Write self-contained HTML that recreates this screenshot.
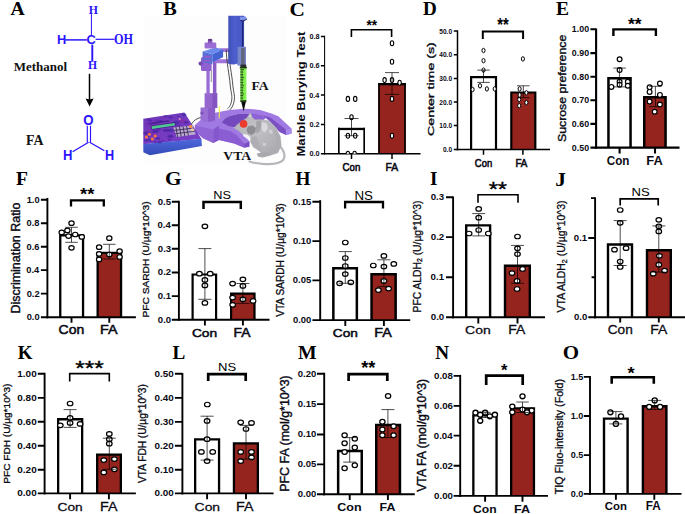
<!DOCTYPE html>
<html lang="en"><head><meta charset="utf-8"><title>Figure</title>
<style>html,body{margin:0;padding:0;background:#fff}body{width:685px;height:514px;overflow:hidden}svg text{white-space:pre}</style></head>
<body>
<svg width="685" height="514" viewBox="0 0 685 514" style="display:block">
<rect width="685" height="514" fill="#fff"/>
<g id="panelB">
<defs>
<linearGradient id="colg" x1="0" x2="1" y1="0" y2="0"><stop offset="0" stop-color="#3f4fb8"/><stop offset="0.35" stop-color="#4d5ecd"/><stop offset="0.7" stop-color="#4858c8"/><stop offset="0.86" stop-color="#3b49b0"/><stop offset="1" stop-color="#4a5ac4"/></linearGradient>
<linearGradient id="boxf" x1="0" x2="0" y1="0" y2="1"><stop offset="0" stop-color="#4f68dc"/><stop offset="1" stop-color="#334bb8"/></linearGradient>
<linearGradient id="boxt" x1="0" x2="1" y1="0" y2="1"><stop offset="0" stop-color="#6d35b8"/><stop offset="1" stop-color="#7c3fc8"/></linearGradient>
<radialGradient id="mouseg" cx="0.45" cy="0.35" r="0.7"><stop offset="0" stop-color="#c3c3c8"/><stop offset="1" stop-color="#aaaaaf"/></radialGradient>
</defs>
<rect x="143.5" y="15.8" width="143" height="149" fill="#fdfdfe"/>
<path d="M194.9 124.9L203.1 117.8L216.1 112.6Q229 109.4 243.5 108.7Q254 108.8 260.2 110.1L271.5 113.4L278.3 116.2L291.5 128.4L291.5 133.4L286.2 135.1L279.7 132L270.2 121.5L266 118L262.6 115.4Q252 113.4 243.5 113.4Q231 114.2 224.9 118.4L221.4 122.5L234.2 127.8L240 131.3L249.4 141.2L249.4 147L244.1 147.6L234.2 143.5L219 140L213.4 143L203 138.3L194.9 131Z" fill="#a079e3"/>
<path d="M221.4 122.5L224.9 118.4Q231 114.2 243.5 113.4Q252 113.2 262.6 115.4L262 121L240 126.4L234.2 127.4L228.4 126Z" fill="#7449bd"/>
<path d="M251 113.5Q257 114 262.6 115.4L266 118L262 121L251 121Z" fill="#8d63d5"/>
<path d="M262.6 115.4L270 117.2L285.8 129.6L286.2 135.1L279.7 132L270.2 121.5L266 118Z" fill="#7c51c4"/>
<path d="M285.8 129.6L291.5 128.4L291.5 133.4L286.2 135.1Z" fill="#a888ea"/>
<path d="M194.9 125.4L213.4 129.5L213.4 143L203 138.3L194.9 131Z" fill="#9265d6"/>
<path d="M213.4 129.5L219 125.6L219 140L213.4 143Z" fill="#8557cc"/>
<path d="M219 128.4L230 131L236 134.5L244.3 143.8L244.2 147.8L234.2 143.5L219 140Z" fill="#8a5dd3"/>
<path d="M244.3 143.8L249.4 141.4L249.4 146.4L244.2 147.8Z" fill="#7a4dc2"/>
<path d="M143.3 118.8L184.4 112.6L201.4 138.9L143.3 144.2Z" fill="url(#boxt)"/>
<path d="M143.3 144.1L201.4 138.8L201.9 145.9L149.9 155.2L143.3 152.3Z" fill="url(#boxf)"/>
<g opacity="0.55">
<ellipse cx="157.4" cy="120.7" rx="1.4" ry="0.7" fill="#5520a0"/>
<ellipse cx="178.4" cy="116.2" rx="1.4" ry="0.7" fill="#2a2a9a"/>
<ellipse cx="164.5" cy="116.6" rx="2.2" ry="1.1" fill="#8a2aa0"/>
<ellipse cx="155.4" cy="131.4" rx="3.1" ry="1.6" fill="#3a1796"/>
<ellipse cx="148.9" cy="123.7" rx="2.6" ry="1.3" fill="#5520a0"/>
<ellipse cx="146.5" cy="133.3" rx="3.4" ry="1.7" fill="#3a1796"/>
<ellipse cx="145.9" cy="140.4" rx="2.2" ry="1.1" fill="#4a1aa8"/>
<ellipse cx="170.8" cy="130.2" rx="3.1" ry="1.5" fill="#2a2a9a"/>
<ellipse cx="152.5" cy="132.5" rx="1.7" ry="0.8" fill="#5520a0"/>
<ellipse cx="148.5" cy="136.3" rx="1.4" ry="0.7" fill="#2a2a9a"/>
<ellipse cx="154.1" cy="134.9" rx="3.0" ry="1.5" fill="#8a2aa0"/>
<ellipse cx="169.7" cy="139.8" rx="1.9" ry="1.0" fill="#4a1aa8"/>
<ellipse cx="185.4" cy="132.1" rx="1.4" ry="0.7" fill="#3a1796"/>
<ellipse cx="158.2" cy="129.6" rx="2.9" ry="1.4" fill="#4a1aa8"/>
<ellipse cx="159.9" cy="142.2" rx="2.4" ry="1.2" fill="#3a1796"/>
<ellipse cx="151.0" cy="126.5" rx="2.2" ry="1.1" fill="#8a2aa0"/>
<ellipse cx="184.1" cy="114.9" rx="2.5" ry="1.3" fill="#2a2a9a"/>
<ellipse cx="184.0" cy="121.6" rx="2.0" ry="1.0" fill="#5520a0"/>
<ellipse cx="170.4" cy="136.3" rx="3.1" ry="1.6" fill="#3a1796"/>
<ellipse cx="189.7" cy="125.4" rx="1.4" ry="0.7" fill="#5520a0"/>
<ellipse cx="177.2" cy="122.3" rx="3.5" ry="1.7" fill="#2a2a9a"/>
<ellipse cx="181.1" cy="121.1" rx="3.2" ry="1.6" fill="#8a2aa0"/>
<ellipse cx="163.1" cy="140.8" rx="1.6" ry="0.8" fill="#4a1aa8"/>
<ellipse cx="148.2" cy="119.6" rx="1.5" ry="0.8" fill="#4a1aa8"/>
<ellipse cx="155.1" cy="127.3" rx="1.4" ry="0.7" fill="#8a2aa0"/>
<ellipse cx="166.0" cy="130.2" rx="3.1" ry="1.5" fill="#3a1796"/>
<ellipse cx="182.9" cy="120.7" rx="3.5" ry="1.7" fill="#8a2aa0"/>
<ellipse cx="175.8" cy="124.5" rx="1.6" ry="0.8" fill="#3a1796"/>
<ellipse cx="151.2" cy="123.6" rx="1.3" ry="0.6" fill="#3a1796"/>
<ellipse cx="180.0" cy="118.4" rx="1.3" ry="0.6" fill="#4a1aa8"/>
<ellipse cx="163.1" cy="125.7" rx="2.0" ry="1.0" fill="#2a2a9a"/>
<ellipse cx="150.3" cy="139.9" rx="2.7" ry="1.4" fill="#2a2a9a"/>
<ellipse cx="179.4" cy="126.1" rx="3.0" ry="1.5" fill="#5520a0"/>
<ellipse cx="162.1" cy="126.6" rx="2.3" ry="1.2" fill="#3a1796"/>
<ellipse cx="161.1" cy="121.2" rx="2.2" ry="1.1" fill="#3a1796"/>
<ellipse cx="148.9" cy="133.4" rx="1.3" ry="0.6" fill="#3a1796"/>
<ellipse cx="149.8" cy="120.5" rx="2.6" ry="1.3" fill="#4a1aa8"/>
<ellipse cx="146.4" cy="123.7" rx="1.6" ry="0.8" fill="#8a2aa0"/>
<ellipse cx="155.2" cy="126.1" rx="2.3" ry="1.2" fill="#4a1aa8"/>
<ellipse cx="149.0" cy="130.5" rx="2.3" ry="1.2" fill="#8a2aa0"/>
<ellipse cx="156.9" cy="120.6" rx="2.0" ry="1.0" fill="#5520a0"/>
<ellipse cx="157.9" cy="138.4" rx="2.4" ry="1.2" fill="#3a1796"/>
<ellipse cx="155.1" cy="141.9" rx="1.6" ry="0.8" fill="#4a1aa8"/>
<ellipse cx="165.9" cy="116.1" rx="1.9" ry="1.0" fill="#2a2a9a"/>
<ellipse cx="170.7" cy="117.2" rx="2.4" ry="1.2" fill="#4a1aa8"/>
<ellipse cx="186.1" cy="122.5" rx="2.5" ry="1.2" fill="#3a1796"/>
</g>
<path d="M150.6 125.6L175.2 122.1L175.8 126.2L151.3 129.8Z" fill="#4a2090"/>
<path d="M151.6 126.2L174.6 122.9L175 125.6L152 128.9Z" fill="#50c690"/>
<path d="M151 122.8L169 120.3L169.3 121.6L151.3 124.2Z" fill="#4b1c8c"/>
<path d="M173.3 127.4L193.5 125.2L195.6 134.4L176.6 137.1Z" fill="#b9a9cf"/>
<path d="M176 127.2L177.6 137M179.5 126.8L181.2 136.5M183 126.4L184.8 136M186.5 126L188.4 135.5M174.2 130.4L194.2 128M175.2 133.7L195 131.2" stroke="#3b2a5a" stroke-width="0.9" fill="none"/>
<circle cx="149.3" cy="134.2" r="1.5" fill="#ff7a3a"/>
<circle cx="146.4" cy="137.1" r="1.5" fill="#ff7a3a"/>
<circle cx="155.2" cy="135.9" r="1.5" fill="#ff7a3a"/>
<circle cx="152.3" cy="138.9" r="1.5" fill="#ff7a3a"/>
<circle cx="190.6" cy="126.6" r="1.6" fill="#ff8a3a"/><circle cx="192.3" cy="129.8" r="1.5" fill="#f3c9a8"/>
<circle cx="179.7" cy="119" r="1.1" fill="#e08fc0"/>
<path d="M191.5 124Q195 118.5 201 117.5" stroke="#222" stroke-width="0.8" fill="none"/>
<path d="M200.5 107.5H215.1V120Q207.8 124 200.5 120Z" fill="#9a6fd3"/>
<path d="M208 107.5H215.1V120.5L208 122Z" fill="#8a5cc8"/>
<circle cx="202" cy="113" r="1.6" fill="#7d50b8"/>
<rect x="204.6" y="93.2" width="12.6" height="14.8" fill="#9466ce"/>
<rect x="212.4" y="93.2" width="4.8" height="14.8" fill="#8255c0"/>
<rect x="206.4" y="68" width="3.3" height="26.5" fill="#9a6cd5"/>
<rect x="212.9" y="60" width="3.5" height="34.5" fill="#8a5cc8"/>
<path d="M211.3 70V82" stroke="#444" stroke-width="0.6"/>
<rect x="201" y="57" width="10.6" height="14" rx="1.5" fill="#9060cf"/>
<circle cx="200.6" cy="63.6" r="2.1" fill="#7546ae"/>
<rect x="218.5" y="48.3" width="12.6" height="3.7" rx="1.8" fill="#a173da"/>
<rect x="214.5" y="59.2" width="16.6" height="4" rx="2" fill="#a173da"/>
<path d="M202.6 51.4L212.4 54.3L212.4 64.2L202.6 62Z" fill="#5470d6"/>
<path d="M202.6 51.4L215.3 47.5L223.1 49.5L212.4 54.3Z" fill="#6a8aec"/>
<path d="M212.4 54.3L223.1 49.5L223.1 57.2L212.4 62.1Z" fill="#4363d3"/>
<rect x="203.4" y="55.6" width="7.4" height="2.4" rx="1.2" fill="#8a5ccc"/>
<rect x="203.4" y="59.4" width="7.4" height="2.4" rx="1.2" fill="#8a5ccc"/>
<rect x="204.6" y="42.6" width="11.7" height="5.8" rx="1.2" fill="#9a6dd3"/>
<rect x="207.9" y="39.6" width="4.5" height="3.8" rx="1" fill="#8558c2"/>
<ellipse cx="210.1" cy="39.8" rx="2.2" ry="1.1" fill="#5c3b80"/>
<path d="M226.2 49.5C226.5 62 229.5 76 230.1 84S232.5 95 231.7 100S229.6 107 227.4 108.9M228.7 49.5C229 62 232.1 76 232.7 84S235.1 95 234.3 100S232.2 107.6 229.8 109.9" stroke="#262626" stroke-width="0.8" fill="none"/>
<path d="M219.3 106.1V118.4" stroke="#f2f03a" stroke-width="1"/>
<path d="M228.3 15.8H244.1V47H245.8V65.3H237.6V63.6Q233 65.4 228.3 63.8Z" fill="url(#colg)"/>
<path d="M239.6 17.2L245.4 16.7L247.3 19.3L243.6 21.6L240.4 20.9Z" fill="#1f2868"/>
<path d="M239.6 16.9L245.4 16.4L247.1 18.7L243.4 20.2L240.2 19.9Z" fill="#8192ec"/>
<path d="M242.6 21V47" stroke="#1c2570" stroke-width="1.1"/>
<rect x="237.6" y="46.8" width="8.2" height="18.6" fill="#7785cb"/>
<rect x="241.2" y="48" width="3.4" height="17.4" fill="#62667a"/>
<rect x="240.4" y="64.6" width="5.8" height="2.6" fill="#2a2a30"/>
<rect x="240.3" y="67" width="6.1" height="34.5" fill="#82f250"/>
<rect x="239.8" y="66.8" width="7.1" height="1.6" fill="#1d3b12"/>
<path d="M240.4 69.6h3.6M240.4 71.2h2.8M240.4 72.8h2.8M240.4 74.5h2.8M240.4 76.1h2.8M240.4 77.7h3.6M240.4 79.3h2.8M240.4 80.9h2.8M240.4 82.6h2.8M240.4 84.2h2.8M240.4 85.8h3.6M240.4 87.4h2.8M240.4 89.0h2.8M240.4 90.7h2.8M240.4 92.3h2.8M240.4 93.9h3.6M240.4 95.5h2.8M240.4 97.1h2.8M240.4 98.8h2.8" stroke="#0c1c08" stroke-width="0.75" fill="none"/>
<rect x="240.3" y="100.3" width="6.1" height="1.5" fill="#1c2a16"/>
<path d="M241.1 101.6H245.9L243.6 111.6Z" fill="#0c0c0c"/>
<path d="M280.2 146.5C283.6 150.5 286 155.5 283.2 160C279.5 164.2 270 164.4 262 163.8C256.5 163.4 252.5 162.6 249.6 161.4" stroke="#b7b7bc" stroke-width="2.2" fill="none" stroke-linecap="round"/>
<path d="M250.4 112.6 L252.2 117.2 L254.7 119.7 L260.2 119.4 L268.7 120.7 L276.1 127.7 L280.4 136.8 L281.2 145.4 L277.9 152.8 L270.0 155.4 L262.6 157.2 L258.3 156.4 L257.1 153.7 L261.4 153.0 L258.3 150.3 L253.4 147.2 L250.4 141.7 L250.6 137.1 L246.7 137.1 L242.4 134.1 L237.5 130.1 L234.4 128.5 L235.7 125.8 L240.6 122.1 L246.7 117.9 L248.2 115.8Z" fill="url(#mouseg)" stroke="#a9a9ae" stroke-width="0.4" stroke-linejoin="round"/>
<path d="M247.9 126.4 L252.2 125.2 L255.9 127.7 L255.3 132.5 L251.6 135.0 L247.9 133.4 L246.4 130.1Z" fill="#8d8d92"/>
<path d="M256.5 120.9 L260.8 120.3 L261.4 125.8 L259.5 131.3 L256.5 133.8 L255.9 128.3Z" fill="#a3a3a8"/>
<path d="M262.0 122.1 L266.9 123.4 L267.8 128.3 L265.1 132.5 L262.4 130.7 L261.4 126.4Z" fill="#dadade"/>
<path d="M268.7 129.5 L272.2 130.1 L272.7 133.4 L269.7 133.8Z" fill="#d2d2d6"/>
<path d="M262.6 142.7 L266.3 143.2 L265.7 146.0 L262.9 145.7Z" fill="#cfcfd3"/>
<path d="M273.6 129.5 L279.1 135.6 L280.7 144.2 L277.9 152.1 L273.6 153.4 L276.7 145.4 L276.3 137.4Z" fill="#acacb1"/>
<path d="M251.6 137.1 L256.5 136.2 L258.3 141.7 L260.8 147.9 L262.6 152.5 L258.3 150.1 L253.8 147.0 L250.7 141.7Z" fill="#aeaeb3"/>
<path d="M242.8 133.9 L246.7 134.4 L250.4 137.1 L250.1 139.5 L246.4 138.3 L243.6 136.3Z" fill="#f4f4f6"/>
<path d="M257.1 153.7 L261.4 152.8 L268.7 152.3 L270.2 155.0 L262.9 157.2 L258.3 156.4Z" fill="#a8a8ad"/>
<path d="M248.9 117.0 L250.4 113.8 L251.6 117.2Z" fill="#d6d6da"/>
<circle cx="243.6" cy="123.9" r="3.8" fill="#ec3a2c"/>
<text transform="translate(163.20 15.20) scale(1.0644 1)" font-family='"Liberation Serif", serif' font-weight="bold" font-size="19.09" fill="#000" >B</text>
<text transform="translate(251.40 89.90) scale(1.0563 1)" font-family='"Liberation Serif", serif' font-weight="bold" font-size="12.88" fill="#111" >FA</text>
<text transform="translate(223.36 159.81) scale(1.0601 1)" font-family='"Liberation Serif", serif' font-weight="bold" font-size="12.89" fill="#111" >VTA</text>
</g>
<g id="panelA">
<text transform="translate(10.40 15.30) scale(1.0328 1)" font-family='"Liberation Serif", serif' font-weight="bold" font-size="19.09" fill="#000" >A</text>
<path d="M91.4 13.9V35.2" stroke="#2b14fb" stroke-width="1" fill="none"/>
<path d="M92.3 44.6V61.6" stroke="#2b14fb" stroke-width="1.9" fill="none"/>
<path d="M65.4 39.9H86.9" stroke="#2b14fb" stroke-width="1.5" fill="none"/>
<path d="M95.6 39.3H114.5" stroke="#2b14fb" stroke-width="1.2" fill="none"/>
<text transform="translate(88.72 13.90) scale(0.8792 1)" font-family='"Liberation Serif", serif' font-weight="bold" font-size="13.44" fill="#2b14fb" >H</text>
<text transform="translate(86.49 44.46) scale(0.9485 1)" font-family='"Liberation Sans", sans-serif' font-weight="bold" font-size="13.52" fill="#2b14fb" >C</text>
<text transform="translate(56.96 43.90) scale(1.0216 1)" font-family='"Liberation Sans", sans-serif' font-weight="bold" font-size="12.61" fill="#2b14fb" >H</text>
<text transform="translate(113.89 43.96) scale(0.9043 1)" font-family='"Liberation Serif", serif' font-weight="bold" font-size="13.58" fill="#2b14fb" >OH</text>
<text transform="translate(88.12 68.50) scale(0.9328 1)" font-family='"Liberation Serif", serif' font-weight="bold" font-size="12.52" fill="#2b14fb" >H</text>
<text transform="translate(13.70 70.58) scale(1.0427 1)" font-family='"Liberation Serif", serif' font-weight="bold" font-size="12.48" fill="#111" >Methanol</text>
<path d="M89.5 73.8V100" stroke="#000" stroke-width="1.5" fill="none"/>
<path d="M85.6 98.6Q89.5 100.2 93.6 98.6L89.6 106.4Z" fill="#000"/>
<text transform="translate(83.27 125.06) scale(0.9590 1)" font-family='"Liberation Sans", sans-serif' font-weight="bold" font-size="13.80" fill="#2b14fb" >O</text>
<path d="M87.3 125.8V142.5M90.5 125.8V142.5" stroke="#2b14fb" stroke-width="1.15" fill="none"/>
<path d="M88.6 142.3L72.6 151.7M89.6 142.3L104.4 150.8" stroke="#2b14fb" stroke-width="1.3" fill="none"/>
<text transform="translate(62.95 159.90) scale(0.9380 1)" font-family='"Liberation Sans", sans-serif' font-weight="bold" font-size="13.91" fill="#2b14fb" >H</text>
<text transform="translate(105.07 159.90) scale(0.9137 1)" font-family='"Liberation Sans", sans-serif' font-weight="bold" font-size="13.91" fill="#2b14fb" >H</text>
<text transform="translate(25.99 145.00) scale(0.9933 1)" font-family='"Liberation Serif", serif' font-weight="bold" font-size="13.94" fill="#111" >FA</text>
</g>
<g id="panelC">
<rect x="338.00" y="127.80" width="27.00" height="25.90" fill="#fff"/>
<path d="M338.82 153.70V127.80M364.18 153.70V127.80" stroke="#000" stroke-width="1.65" fill="none"/>
<path d="M338.00 128.95H365.00" stroke="#000" stroke-width="2.3" fill="none"/>
<rect x="378.20" y="83.00" width="27.60" height="70.70" fill="#96241e"/>
<path d="M379.02 153.70V83.00M404.98 153.70V83.00" stroke="#000" stroke-width="1.65" fill="none"/>
<path d="M378.20 84.15H405.80" stroke="#000" stroke-width="2.3" fill="none"/>
<path d="M324.60 35.70V154.45" stroke="#000" stroke-width="1.05" fill="none"/>
<path d="M324.08 153.70H420.50" stroke="#000" stroke-width="1.5" fill="none"/>
<path d="M320.90 36.40H324.60M320.90 65.80H324.60M320.90 95.00H324.60M320.90 124.40H324.60M320.90 153.70H324.60M351.50 153.70V158.90M392.00 153.70V158.90" stroke="#000" stroke-width="1.5" fill="none"/>
<text transform="translate(309.41 39.07) scale(0.9388 1)" font-family='"Liberation Sans", sans-serif' font-weight="bold" font-size="7.75" fill="#0a0a14" >0.8</text>
<text transform="translate(309.45 68.47) scale(0.9388 1)" font-family='"Liberation Sans", sans-serif' font-weight="bold" font-size="7.75" fill="#0a0a14" >0.6</text>
<text transform="translate(309.23 97.67) scale(0.9388 1)" font-family='"Liberation Sans", sans-serif' font-weight="bold" font-size="7.75" fill="#0a0a14" >0.4</text>
<text transform="translate(309.48 127.07) scale(0.9388 1)" font-family='"Liberation Sans", sans-serif' font-weight="bold" font-size="7.75" fill="#0a0a14" >0.2</text>
<text transform="translate(309.48 156.37) scale(0.9388 1)" font-family='"Liberation Sans", sans-serif' font-weight="bold" font-size="7.75" fill="#0a0a14" >0.0</text>
<ellipse cx="347.9" cy="98.9" rx="1.7" ry="2.5" fill="#fff" stroke="#000" stroke-width="1.1"/>
<ellipse cx="355.2" cy="98.9" rx="1.7" ry="2.5" fill="#fff" stroke="#000" stroke-width="1.1"/>
<ellipse cx="351.5" cy="117.3" rx="1.7" ry="2.5" fill="#fff" stroke="#000" stroke-width="1.1"/>
<ellipse cx="347.9" cy="135.7" rx="1.7" ry="2.5" fill="#fff" stroke="#000" stroke-width="1.1"/>
<ellipse cx="355.2" cy="135.7" rx="1.7" ry="2.5" fill="#fff" stroke="#000" stroke-width="1.1"/>
<path d="M346.20 153.70A1.7 2.5 0 0 1 349.60 153.70" fill="#fff" stroke="#000" stroke-width="1.1"/>
<path d="M352.90 153.70A1.7 2.5 0 0 1 356.30 153.70" fill="#fff" stroke="#000" stroke-width="1.1"/>
<ellipse cx="392.0" cy="43.3" rx="1.7" ry="2.5" fill="#fff" stroke="#000" stroke-width="1.1"/>
<ellipse cx="392.0" cy="61.7" rx="1.7" ry="2.5" fill="#fff" stroke="#000" stroke-width="1.1"/>
<ellipse cx="384.6" cy="80.1" rx="1.7" ry="2.5" fill="#fff" stroke="#000" stroke-width="1.1"/>
<ellipse cx="392.0" cy="80.1" rx="1.7" ry="2.5" fill="#fff" stroke="#000" stroke-width="1.1"/>
<ellipse cx="399.6" cy="82.8" rx="1.7" ry="2.5" fill="#fff" stroke="#000" stroke-width="1.1"/>
<ellipse cx="392.0" cy="98.9" rx="1.7" ry="2.5" fill="#fff" stroke="#000" stroke-width="1.1"/>
<ellipse cx="392.0" cy="135.7" rx="1.7" ry="2.5" fill="#fff" stroke="#000" stroke-width="1.1"/>
<path d="M351.50 118.50V135.70M344.50 118.50h14M344.50 135.70h14M392.00 72.60V94.40M385.00 72.60h14M385.00 94.40h14" stroke="#000" stroke-width="0.7" fill="none"/>
<path d="M351.40 37.10V29.80H391.60V37.10" stroke="#000" stroke-width="1.6" fill="none" stroke-linejoin="miter"/>
<text transform="translate(366.53 29.53) scale(0.8852 1)" font-family='"Liberation Sans", sans-serif' font-weight="bold" font-size="15.41" fill="#000" >**</text>
<text transform="translate(342.51 170.98) scale(0.8407 1)" font-family='"Liberation Sans", sans-serif' font-weight="normal" font-size="11.55" fill="#0a0a14"  stroke="#0a0a14" stroke-width="0.55" vector-effect="non-scaling-stroke">Con</text>
<text transform="translate(385.47 171.00) scale(0.8817 1)" font-family='"Liberation Sans", sans-serif' font-weight="normal" font-size="11.74" fill="#0a0a14"  stroke="#0a0a14" stroke-width="0.55" vector-effect="non-scaling-stroke">FA</text>
<text transform="translate(304.80 156.55) rotate(-90) scale(1.2506 1)" font-family='"Liberation Sans", sans-serif' font-weight="bold" font-size="10.48" fill="#0a0a14" >Marble Burying Test</text>
<text transform="translate(289.53 15.70) scale(1.0834 1)" font-family='"Liberation Serif", serif' font-weight="bold" font-size="19.70" fill="#000" >C</text>
</g>
<g id="panelD">
<path d="M471.10 149.60V77.20H496.00V149.60" fill="#fff" stroke="#000" stroke-width="2.2" stroke-linejoin="miter"/>
<path d="M511.30 149.60V92.50H535.30V149.60" fill="#96241e" stroke="#000" stroke-width="2.2" stroke-linejoin="miter"/>
<path d="M457.50 30.40V150.35" stroke="#000" stroke-width="1.5" fill="none"/>
<path d="M456.75 149.60H550.00" stroke="#000" stroke-width="1.5" fill="none"/>
<path d="M453.80 31.10H457.50M453.80 54.80H457.50M453.80 78.40H457.50M453.80 102.00H457.50M453.80 125.60H457.50M453.80 149.60H457.50M483.50 149.60V154.80M522.90 149.60V154.80" stroke="#000" stroke-width="1.5" fill="none"/>
<text transform="translate(439.30 33.77) scale(0.8468 1)" font-family='"Liberation Sans", sans-serif' font-weight="bold" font-size="7.75" fill="#0a0a14" >50.0</text>
<text transform="translate(439.30 57.47) scale(0.8468 1)" font-family='"Liberation Sans", sans-serif' font-weight="bold" font-size="7.75" fill="#0a0a14" >40.0</text>
<text transform="translate(439.30 81.07) scale(0.8468 1)" font-family='"Liberation Sans", sans-serif' font-weight="bold" font-size="7.75" fill="#0a0a14" >30.0</text>
<text transform="translate(439.30 104.67) scale(0.8468 1)" font-family='"Liberation Sans", sans-serif' font-weight="bold" font-size="7.75" fill="#0a0a14" >20.0</text>
<text transform="translate(439.30 128.27) scale(0.8468 1)" font-family='"Liberation Sans", sans-serif' font-weight="bold" font-size="7.75" fill="#0a0a14" >10.0</text>
<text transform="translate(442.94 152.27) scale(0.8468 1)" font-family='"Liberation Sans", sans-serif' font-weight="bold" font-size="7.75" fill="#0a0a14" >0.0</text>
<ellipse cx="483.5" cy="50.5" rx="1.55" ry="2.2" fill="#fff" stroke="#000" stroke-width="1.0"/>
<ellipse cx="483.5" cy="60.7" rx="1.55" ry="2.2" fill="#fff" stroke="#000" stroke-width="1.0"/>
<ellipse cx="483.5" cy="70.1" rx="1.55" ry="2.2" fill="#fff" stroke="#000" stroke-width="1.0"/>
<ellipse cx="472.6" cy="89.5" rx="1.55" ry="2.2" fill="#fff" stroke="#000" stroke-width="1.0"/>
<ellipse cx="480.0" cy="85.8" rx="1.55" ry="2.2" fill="#fff" stroke="#000" stroke-width="1.0"/>
<ellipse cx="486.9" cy="88.9" rx="1.55" ry="2.2" fill="#fff" stroke="#000" stroke-width="1.0"/>
<ellipse cx="494.7" cy="88.9" rx="1.55" ry="2.2" fill="#fff" stroke="#000" stroke-width="1.0"/>
<ellipse cx="522.9" cy="58.9" rx="1.55" ry="2.2" fill="#fff" stroke="#000" stroke-width="1.0"/>
<ellipse cx="519.6" cy="88.9" rx="1.55" ry="2.2" fill="#fff" stroke="#000" stroke-width="1.0"/>
<ellipse cx="526.4" cy="92.8" rx="1.55" ry="2.2" fill="#fff" stroke="#000" stroke-width="1.0"/>
<ellipse cx="519.6" cy="95.0" rx="1.55" ry="2.2" fill="#fff" stroke="#000" stroke-width="1.0"/>
<ellipse cx="519.2" cy="99.5" rx="1.55" ry="2.2" fill="#fff" stroke="#000" stroke-width="1.0"/>
<ellipse cx="526.4" cy="102.6" rx="1.55" ry="2.2" fill="#fff" stroke="#000" stroke-width="1.0"/>
<ellipse cx="519.2" cy="105.7" rx="1.55" ry="2.2" fill="#fff" stroke="#000" stroke-width="1.0"/>
<path d="M483.50 70.10V82.40M477.25 70.10h12.5M477.25 82.40h12.5M523.30 85.80V97.70M517.05 85.80h12.5M517.05 97.70h12.5" stroke="#000" stroke-width="0.7" fill="none"/>
<path d="M482.80 38.90V31.60H523.10V38.90" stroke="#000" stroke-width="2.0" fill="none" stroke-linejoin="miter"/>
<text transform="translate(497.33 30.89) scale(0.8176 1)" font-family='"Liberation Sans", sans-serif' font-weight="bold" font-size="18.11" fill="#000" >**</text>
<text transform="translate(474.83 167.09) scale(0.8411 1)" font-family='"Liberation Sans", sans-serif' font-weight="normal" font-size="11.27" fill="#0a0a14"  stroke="#0a0a14" stroke-width="0.55" vector-effect="non-scaling-stroke">Con</text>
<text transform="translate(515.41 167.10) scale(0.8581 1)" font-family='"Liberation Sans", sans-serif' font-weight="normal" font-size="11.45" fill="#0a0a14"  stroke="#0a0a14" stroke-width="0.55" vector-effect="non-scaling-stroke">FA</text>
<text transform="translate(433.60 136.01) rotate(-90) scale(1.4918 1)" font-family='"Liberation Sans", sans-serif' font-weight="normal" font-size="9.52" fill="#0a0a14"  stroke="#0a0a14" stroke-width="0.4" vector-effect="non-scaling-stroke">Center time (s)</text>
<text transform="translate(422.91 15.30) scale(0.9924 1)" font-family='"Liberation Serif", serif' font-weight="bold" font-size="19.24" fill="#000" >D</text>
</g>
<g id="panelE">
<path d="M608.45 147.60V78.35H630.55V147.60" fill="#fff" stroke="#000" stroke-width="2.5" stroke-linejoin="miter"/>
<path d="M644.25 147.60V97.35H665.55V147.60" fill="#96241e" stroke="#000" stroke-width="2.5" stroke-linejoin="miter"/>
<path d="M596.10 28.50V148.65" stroke="#000" stroke-width="2.1" fill="none"/>
<path d="M595.05 147.60H679.50" stroke="#000" stroke-width="2.1" fill="none"/>
<path d="M590.40 29.20H596.10M590.40 53.10H596.10M590.40 76.70H596.10M590.40 100.30H596.10M590.40 123.90H596.10M590.40 147.60H596.10M619.60 147.60V153.60M655.00 147.60V153.60" stroke="#000" stroke-width="2.1" fill="none"/>
<text transform="translate(571.87 32.16) scale(1.0283 1)" font-family='"Liberation Sans", sans-serif' font-weight="bold" font-size="8.59" fill="#0a0a14" >1.00</text>
<text transform="translate(571.87 56.06) scale(1.0283 1)" font-family='"Liberation Sans", sans-serif' font-weight="bold" font-size="8.59" fill="#0a0a14" >0.90</text>
<text transform="translate(571.87 79.66) scale(1.0283 1)" font-family='"Liberation Sans", sans-serif' font-weight="bold" font-size="8.59" fill="#0a0a14" >0.80</text>
<text transform="translate(571.87 103.26) scale(1.0283 1)" font-family='"Liberation Sans", sans-serif' font-weight="bold" font-size="8.59" fill="#0a0a14" >0.70</text>
<text transform="translate(571.87 126.86) scale(1.0283 1)" font-family='"Liberation Sans", sans-serif' font-weight="bold" font-size="8.59" fill="#0a0a14" >0.60</text>
<text transform="translate(571.87 150.56) scale(1.0283 1)" font-family='"Liberation Sans", sans-serif' font-weight="bold" font-size="8.59" fill="#0a0a14" >0.50</text>
<ellipse cx="619.6" cy="59.3" rx="2.4" ry="2.4" fill="#fff" stroke="#000" stroke-width="1.2"/>
<ellipse cx="619.6" cy="70.1" rx="2.4" ry="2.4" fill="#fff" stroke="#000" stroke-width="1.2"/>
<ellipse cx="619.6" cy="81.8" rx="2.4" ry="2.4" fill="#fff" stroke="#000" stroke-width="1.2"/>
<ellipse cx="627.8" cy="81.8" rx="2.4" ry="2.4" fill="#fff" stroke="#000" stroke-width="1.2"/>
<ellipse cx="611.4" cy="86.9" rx="2.4" ry="2.4" fill="#fff" stroke="#000" stroke-width="1.2"/>
<ellipse cx="619.6" cy="84.8" rx="2.4" ry="2.4" fill="#fff" stroke="#000" stroke-width="1.2"/>
<ellipse cx="627.8" cy="85.8" rx="2.4" ry="2.4" fill="#fff" stroke="#000" stroke-width="1.2"/>
<ellipse cx="659.9" cy="83.5" rx="2.4" ry="2.4" fill="#fff" stroke="#000" stroke-width="1.2"/>
<ellipse cx="649.6" cy="87.2" rx="2.4" ry="2.4" fill="#fff" stroke="#000" stroke-width="1.2"/>
<ellipse cx="649.6" cy="91.9" rx="2.4" ry="2.4" fill="#fff" stroke="#000" stroke-width="1.2"/>
<ellipse cx="659.9" cy="94.9" rx="2.4" ry="2.4" fill="#fff" stroke="#000" stroke-width="1.2"/>
<ellipse cx="649.6" cy="101.6" rx="2.4" ry="2.4" fill="#fff" stroke="#000" stroke-width="1.2"/>
<ellipse cx="659.9" cy="104.6" rx="2.4" ry="2.4" fill="#fff" stroke="#000" stroke-width="1.2"/>
<ellipse cx="654.7" cy="111.8" rx="2.4" ry="2.4" fill="#fff" stroke="#000" stroke-width="1.2"/>
<path d="M619.60 68.10V86.90M613.35 68.10h12.5M613.35 86.90h12.5M655.40 86.30V106.70M649.15 86.30h12.5M649.15 106.70h12.5" stroke="#000" stroke-width="0.7" fill="none"/>
<path d="M613.40 35.90V29.40H655.90V35.90" stroke="#000" stroke-width="2.4" fill="none" stroke-linejoin="miter"/>
<text transform="translate(627.91 29.99) scale(1.0812 1)" font-family='"Liberation Sans", sans-serif' font-weight="bold" font-size="16.22" fill="#000" >**</text>
<text transform="translate(606.83 165.28) scale(0.9621 1)" font-family='"Liberation Sans", sans-serif' font-weight="bold" font-size="12.11" fill="#0a0a14" >Con</text>
<text transform="translate(646.36 165.30) scale(1.0481 1)" font-family='"Liberation Sans", sans-serif' font-weight="bold" font-size="12.32" fill="#0a0a14" >FA</text>
<text transform="translate(566.23 142.05) rotate(-90) scale(1.1396 1)" font-family='"Liberation Sans", sans-serif' font-weight="normal" font-size="10.80" fill="#0a0a14"  stroke="#0a0a14" stroke-width="0.4" vector-effect="non-scaling-stroke">Sucrose preference</text>
<text transform="translate(555.91 15.30) scale(1.0137 1)" font-family='"Liberation Serif", serif' font-weight="bold" font-size="19.24" fill="#000" >E</text>
</g>
<g id="panelF">
<path d="M60.25 317.30V235.45H83.05V317.30" fill="#fff" stroke="#000" stroke-width="2.3" stroke-linejoin="miter"/>
<path d="M97.65 317.30V252.95H121.05V317.30" fill="#96241e" stroke="#000" stroke-width="2.3" stroke-linejoin="miter"/>
<path d="M47.40 197.90V318.25" stroke="#000" stroke-width="1.9" fill="none"/>
<path d="M46.45 317.30H135.90" stroke="#000" stroke-width="1.9" fill="none"/>
<path d="M40.90 199.70H47.40M40.90 223.20H47.40M40.90 246.70H47.40M40.90 270.10H47.40M40.90 293.60H47.40M40.90 317.30H47.40M71.50 317.30V322.80M109.30 317.30V322.80" stroke="#000" stroke-width="1.9" fill="none"/>
<text transform="translate(26.64 202.66) scale(1.0827 1)" font-family='"Liberation Sans", sans-serif' font-weight="bold" font-size="8.59" fill="#0a0a14" >1.0</text>
<text transform="translate(26.55 226.16) scale(1.0827 1)" font-family='"Liberation Sans", sans-serif' font-weight="bold" font-size="8.59" fill="#0a0a14" >0.8</text>
<text transform="translate(26.60 249.66) scale(1.0827 1)" font-family='"Liberation Sans", sans-serif' font-weight="bold" font-size="8.59" fill="#0a0a14" >0.6</text>
<text transform="translate(26.32 273.06) scale(1.0827 1)" font-family='"Liberation Sans", sans-serif' font-weight="bold" font-size="8.59" fill="#0a0a14" >0.4</text>
<text transform="translate(26.64 296.56) scale(1.0827 1)" font-family='"Liberation Sans", sans-serif' font-weight="bold" font-size="8.59" fill="#0a0a14" >0.2</text>
<text transform="translate(26.64 320.26) scale(1.0827 1)" font-family='"Liberation Sans", sans-serif' font-weight="bold" font-size="8.59" fill="#0a0a14" >0.0</text>
<ellipse cx="71.5" cy="223.2" rx="2.65" ry="2.25" fill="#fff" stroke="#000" stroke-width="1.2"/>
<ellipse cx="67.4" cy="230.4" rx="2.65" ry="2.25" fill="#fff" stroke="#000" stroke-width="1.2"/>
<ellipse cx="61.7" cy="232.4" rx="2.65" ry="2.25" fill="#fff" stroke="#000" stroke-width="1.2"/>
<ellipse cx="75.2" cy="234.5" rx="2.65" ry="2.25" fill="#fff" stroke="#000" stroke-width="1.2"/>
<ellipse cx="68.5" cy="236.1" rx="2.65" ry="2.25" fill="#fff" stroke="#000" stroke-width="1.2"/>
<ellipse cx="81.8" cy="236.9" rx="2.65" ry="2.25" fill="#fff" stroke="#000" stroke-width="1.2"/>
<ellipse cx="71.5" cy="247.8" rx="2.65" ry="2.25" fill="#fff" stroke="#000" stroke-width="1.2"/>
<ellipse cx="109.3" cy="238.2" rx="2.65" ry="2.25" fill="#fff" stroke="#000" stroke-width="1.2"/>
<ellipse cx="99.1" cy="247.2" rx="2.65" ry="2.25" fill="#fff" stroke="#000" stroke-width="1.2"/>
<ellipse cx="119.6" cy="251.2" rx="2.65" ry="2.25" fill="#fff" stroke="#000" stroke-width="1.2"/>
<ellipse cx="99.1" cy="253.9" rx="2.65" ry="2.25" fill="#fff" stroke="#000" stroke-width="1.2"/>
<ellipse cx="109.3" cy="254.5" rx="2.65" ry="2.25" fill="#fff" stroke="#000" stroke-width="1.2"/>
<ellipse cx="119.6" cy="257.0" rx="2.65" ry="2.25" fill="#fff" stroke="#000" stroke-width="1.2"/>
<ellipse cx="99.1" cy="259.4" rx="2.65" ry="2.25" fill="#fff" stroke="#000" stroke-width="1.2"/>
<path d="M71.50 227.30V242.30M65.25 227.30h12.5M65.25 242.30h12.5M109.30 244.30V259.00M103.05 244.30h12.5M103.05 259.00h12.5" stroke="#000" stroke-width="0.7" fill="none"/>
<path d="M71.00 206.50V200.40H103.80V206.50" stroke="#000" stroke-width="2.3" fill="none" stroke-linejoin="miter"/>
<text transform="translate(80.01 200.38) scale(1.1265 1)" font-family='"Liberation Sans", sans-serif' font-weight="bold" font-size="16.49" fill="#000" >**</text>
<text transform="translate(58.60 334.37) scale(1.0932 1)" font-family='"Liberation Sans", sans-serif' font-weight="normal" font-size="12.82" fill="#0a0a14"  stroke="#0a0a14" stroke-width="0.55" vector-effect="non-scaling-stroke">Con</text>
<text transform="translate(100.06 334.40) scale(1.0962 1)" font-family='"Liberation Sans", sans-serif' font-weight="normal" font-size="13.04" fill="#0a0a14"  stroke="#0a0a14" stroke-width="0.55" vector-effect="non-scaling-stroke">FA</text>
<text transform="translate(20.08 313.50) rotate(-90) scale(1.0302 1)" font-family='"Liberation Sans", sans-serif' font-weight="normal" font-size="12.11" fill="#0a0a14"  stroke="#0a0a14" stroke-width="0.4" vector-effect="non-scaling-stroke">Discrimination Ratio</text>
<text transform="translate(16.11 184.80) scale(1.0208 1)" font-family='"Liberation Serif", serif' font-weight="bold" font-size="19.24" fill="#000" >F</text>
</g>
<g id="panelG">
<path d="M192.60 319.70V274.50H216.10V319.70" fill="#fff" stroke="#000" stroke-width="2.2" stroke-linejoin="miter"/>
<path d="M231.10 319.70V293.70H254.50V319.70" fill="#96241e" stroke="#000" stroke-width="2.2" stroke-linejoin="miter"/>
<path d="M178.90 200.80V320.65" stroke="#000" stroke-width="1.9" fill="none"/>
<path d="M177.95 319.70H269.50" stroke="#000" stroke-width="1.9" fill="none"/>
<path d="M171.80 201.80H178.90M171.80 225.30H178.90M171.80 248.80H178.90M171.80 272.50H178.90M171.80 296.10H178.90M171.80 319.70H178.90M204.90 319.70V325.50M242.90 319.70V325.50" stroke="#000" stroke-width="1.9" fill="none"/>
<text transform="translate(157.72 204.76) scale(1.1156 1)" font-family='"Liberation Sans", sans-serif' font-weight="bold" font-size="8.59" fill="#0a0a14" >0.5</text>
<text transform="translate(157.52 228.26) scale(1.1156 1)" font-family='"Liberation Sans", sans-serif' font-weight="bold" font-size="8.59" fill="#0a0a14" >0.4</text>
<text transform="translate(157.81 251.76) scale(1.1156 1)" font-family='"Liberation Sans", sans-serif' font-weight="bold" font-size="8.59" fill="#0a0a14" >0.3</text>
<text transform="translate(157.86 275.46) scale(1.1156 1)" font-family='"Liberation Sans", sans-serif' font-weight="bold" font-size="8.59" fill="#0a0a14" >0.2</text>
<text transform="translate(157.72 299.06) scale(1.1156 1)" font-family='"Liberation Sans", sans-serif' font-weight="bold" font-size="8.59" fill="#0a0a14" >0.1</text>
<text transform="translate(157.86 322.66) scale(1.1156 1)" font-family='"Liberation Sans", sans-serif' font-weight="bold" font-size="8.59" fill="#0a0a14" >0.0</text>
<ellipse cx="204.9" cy="226.3" rx="2.8" ry="2.25" fill="#fff" stroke="#000" stroke-width="1.2"/>
<ellipse cx="199.4" cy="273.7" rx="2.8" ry="2.25" fill="#fff" stroke="#000" stroke-width="1.2"/>
<ellipse cx="210.2" cy="273.7" rx="2.8" ry="2.25" fill="#fff" stroke="#000" stroke-width="1.2"/>
<ellipse cx="204.9" cy="279.9" rx="2.8" ry="2.25" fill="#fff" stroke="#000" stroke-width="1.2"/>
<ellipse cx="204.9" cy="285.4" rx="2.8" ry="2.25" fill="#fff" stroke="#000" stroke-width="1.2"/>
<ellipse cx="204.9" cy="302.9" rx="2.8" ry="2.25" fill="#fff" stroke="#000" stroke-width="1.2"/>
<ellipse cx="242.9" cy="279.3" rx="2.8" ry="2.25" fill="#fff" stroke="#000" stroke-width="1.2"/>
<ellipse cx="232.6" cy="283.6" rx="2.8" ry="2.25" fill="#fff" stroke="#000" stroke-width="1.2"/>
<ellipse cx="242.9" cy="285.9" rx="2.8" ry="2.25" fill="#fff" stroke="#000" stroke-width="1.2"/>
<ellipse cx="232.6" cy="297.6" rx="2.8" ry="2.25" fill="#fff" stroke="#000" stroke-width="1.2"/>
<ellipse cx="242.9" cy="299.3" rx="2.8" ry="2.25" fill="#fff" stroke="#000" stroke-width="1.2"/>
<ellipse cx="253.1" cy="300.9" rx="2.8" ry="2.25" fill="#fff" stroke="#000" stroke-width="1.2"/>
<ellipse cx="232.7" cy="304.8" rx="2.8" ry="2.25" fill="#fff" stroke="#000" stroke-width="1.2"/>
<path d="M204.90 248.60V299.30M198.40 248.60h13M198.40 299.30h13M242.90 283.50V303.40M236.40 283.50h13M236.40 303.40h13" stroke="#000" stroke-width="0.7" fill="none"/>
<path d="M203.50 208.90V202.10H240.80V208.90" stroke="#000" stroke-width="2.5" fill="none" stroke-linejoin="miter"/>
<text transform="translate(213.18 198.69) scale(1.1340 1)" font-family='"Liberation Sans", sans-serif' font-weight="normal" font-size="11.27" fill="#000" >NS</text>
<text transform="translate(191.91 337.18) scale(1.1647 1)" font-family='"Liberation Sans", sans-serif' font-weight="normal" font-size="11.83" fill="#0a0a14"  stroke="#0a0a14" stroke-width="0.55" vector-effect="non-scaling-stroke">Con</text>
<text transform="translate(233.59 337.20) scale(1.1522 1)" font-family='"Liberation Sans", sans-serif' font-weight="normal" font-size="12.03" fill="#0a0a14"  stroke="#0a0a14" stroke-width="0.55" vector-effect="non-scaling-stroke">FA</text>
<text transform="translate(149.29 317.62) rotate(-90) scale(1.1254 1)" font-family='"Liberation Sans", sans-serif' font-weight="normal" font-size="9.09" fill="#0a0a14"  stroke="#0a0a14" stroke-width="0.3" vector-effect="non-scaling-stroke">PFC SARDH (U/µg*10^3)</text>
<text transform="translate(165.04 185.20) scale(1.0804 1)" font-family='"Liberation Serif", serif' font-weight="bold" font-size="19.70" fill="#000" >G</text>
</g>
<g id="panelH">
<path d="M333.35 320.10V268.35H356.85V320.10" fill="#fff" stroke="#000" stroke-width="2.5" stroke-linejoin="miter"/>
<path d="M371.55 320.10V274.25H395.65V320.10" fill="#96241e" stroke="#000" stroke-width="2.5" stroke-linejoin="miter"/>
<path d="M320.20 200.20V321.05" stroke="#000" stroke-width="1.9" fill="none"/>
<path d="M319.25 320.10H410.20" stroke="#000" stroke-width="1.9" fill="none"/>
<path d="M312.40 201.80H320.20M312.40 241.10H320.20M312.40 280.40H320.20M312.40 320.10H320.20M345.30 320.10V326.00M383.90 320.10V326.00" stroke="#000" stroke-width="1.9" fill="none"/>
<text transform="translate(292.82 204.76) scale(1.1020 1)" font-family='"Liberation Sans", sans-serif' font-weight="bold" font-size="8.59" fill="#0a0a14" >0.15</text>
<text transform="translate(292.96 244.06) scale(1.1020 1)" font-family='"Liberation Sans", sans-serif' font-weight="bold" font-size="8.59" fill="#0a0a14" >0.10</text>
<text transform="translate(292.82 283.36) scale(1.1020 1)" font-family='"Liberation Sans", sans-serif' font-weight="bold" font-size="8.59" fill="#0a0a14" >0.05</text>
<text transform="translate(292.96 323.06) scale(1.1020 1)" font-family='"Liberation Sans", sans-serif' font-weight="bold" font-size="8.59" fill="#0a0a14" >0.00</text>
<ellipse cx="345.3" cy="242.5" rx="2.8" ry="2.25" fill="#fff" stroke="#000" stroke-width="1.2"/>
<ellipse cx="345.3" cy="258.0" rx="2.8" ry="2.25" fill="#fff" stroke="#000" stroke-width="1.2"/>
<ellipse cx="345.3" cy="266.0" rx="2.8" ry="2.25" fill="#fff" stroke="#000" stroke-width="1.2"/>
<ellipse cx="345.3" cy="274.1" rx="2.8" ry="2.25" fill="#fff" stroke="#000" stroke-width="1.2"/>
<ellipse cx="339.6" cy="283.3" rx="2.8" ry="2.25" fill="#fff" stroke="#000" stroke-width="1.2"/>
<ellipse cx="350.8" cy="282.3" rx="2.8" ry="2.25" fill="#fff" stroke="#000" stroke-width="1.2"/>
<ellipse cx="383.9" cy="255.9" rx="2.8" ry="2.25" fill="#fff" stroke="#000" stroke-width="1.2"/>
<ellipse cx="373.3" cy="265.5" rx="2.8" ry="2.25" fill="#fff" stroke="#000" stroke-width="1.2"/>
<ellipse cx="393.8" cy="263.9" rx="2.8" ry="2.25" fill="#fff" stroke="#000" stroke-width="1.2"/>
<ellipse cx="383.9" cy="266.6" rx="2.8" ry="2.25" fill="#fff" stroke="#000" stroke-width="1.2"/>
<ellipse cx="383.9" cy="280.9" rx="2.8" ry="2.25" fill="#fff" stroke="#000" stroke-width="1.2"/>
<ellipse cx="378.4" cy="290.1" rx="2.8" ry="2.25" fill="#fff" stroke="#000" stroke-width="1.2"/>
<ellipse cx="388.6" cy="288.6" rx="2.8" ry="2.25" fill="#fff" stroke="#000" stroke-width="1.2"/>
<path d="M345.30 251.60V283.30M338.80 251.60h13M338.80 283.30h13M383.90 259.80V286.60M377.40 259.80h13M377.40 286.60h13" stroke="#000" stroke-width="0.7" fill="none"/>
<path d="M345.10 208.40V202.00H383.00V208.40" stroke="#000" stroke-width="2.3" fill="none" stroke-linejoin="miter"/>
<text transform="translate(354.43 199.88) scale(1.1008 1)" font-family='"Liberation Sans", sans-serif' font-weight="normal" font-size="12.11" fill="#000" >NS</text>
<text transform="translate(332.82 337.18) scale(1.1548 1)" font-family='"Liberation Sans", sans-serif' font-weight="normal" font-size="11.83" fill="#0a0a14"  stroke="#0a0a14" stroke-width="0.55" vector-effect="non-scaling-stroke">Con</text>
<text transform="translate(374.26 337.20) scale(1.1886 1)" font-family='"Liberation Sans", sans-serif' font-weight="normal" font-size="12.03" fill="#0a0a14"  stroke="#0a0a14" stroke-width="0.55" vector-effect="non-scaling-stroke">FA</text>
<text transform="translate(284.12 316.85) rotate(-90) scale(0.9795 1)" font-family='"Liberation Sans", sans-serif' font-weight="normal" font-size="10.37" fill="#0a0a14"  stroke="#0a0a14" stroke-width="0.3" vector-effect="non-scaling-stroke">VTA SARDH (U/µg*10^3)</text>
<text transform="translate(295.41 185.00) scale(1.0305 1)" font-family='"Liberation Serif", serif' font-weight="bold" font-size="18.63" fill="#000" >H</text>
</g>
<g id="panelI">
<path d="M466.20 317.30V225.40H490.10V317.30" fill="#fff" stroke="#000" stroke-width="2.4" stroke-linejoin="miter"/>
<path d="M505.00 317.30V265.70H529.80V317.30" fill="#96241e" stroke="#000" stroke-width="2.4" stroke-linejoin="miter"/>
<path d="M453.10 196.50V318.25" stroke="#000" stroke-width="1.9" fill="none"/>
<path d="M452.15 317.30H545.00" stroke="#000" stroke-width="1.9" fill="none"/>
<path d="M446.00 197.30H453.10M446.00 237.10H453.10M446.00 277.20H453.10M446.00 317.30H453.10M478.30 317.30V323.40M517.50 317.30V323.40" stroke="#000" stroke-width="1.9" fill="none"/>
<text transform="translate(430.71 200.26) scale(1.1330 1)" font-family='"Liberation Sans", sans-serif' font-weight="bold" font-size="8.59" fill="#0a0a14" >0.3</text>
<text transform="translate(430.76 240.06) scale(1.1330 1)" font-family='"Liberation Sans", sans-serif' font-weight="bold" font-size="8.59" fill="#0a0a14" >0.2</text>
<text transform="translate(430.61 280.16) scale(1.1330 1)" font-family='"Liberation Sans", sans-serif' font-weight="bold" font-size="8.59" fill="#0a0a14" >0.1</text>
<text transform="translate(430.76 320.26) scale(1.1330 1)" font-family='"Liberation Sans", sans-serif' font-weight="bold" font-size="8.59" fill="#0a0a14" >0.0</text>
<ellipse cx="478.7" cy="208.9" rx="2.8" ry="2.25" fill="#fff" stroke="#000" stroke-width="1.2"/>
<ellipse cx="478.7" cy="217.7" rx="2.8" ry="2.25" fill="#fff" stroke="#000" stroke-width="1.2"/>
<ellipse cx="478.7" cy="230.0" rx="2.8" ry="2.25" fill="#fff" stroke="#000" stroke-width="1.2"/>
<ellipse cx="469.1" cy="233.5" rx="2.8" ry="2.25" fill="#fff" stroke="#000" stroke-width="1.2"/>
<ellipse cx="488.3" cy="233.5" rx="2.8" ry="2.25" fill="#fff" stroke="#000" stroke-width="1.2"/>
<ellipse cx="517.5" cy="236.5" rx="2.8" ry="2.25" fill="#fff" stroke="#000" stroke-width="1.2"/>
<ellipse cx="517.5" cy="248.3" rx="2.8" ry="2.25" fill="#fff" stroke="#000" stroke-width="1.2"/>
<ellipse cx="517.5" cy="254.1" rx="2.8" ry="2.25" fill="#fff" stroke="#000" stroke-width="1.2"/>
<ellipse cx="522.6" cy="269.0" rx="2.8" ry="2.25" fill="#fff" stroke="#000" stroke-width="1.2"/>
<ellipse cx="512.0" cy="273.1" rx="2.8" ry="2.25" fill="#fff" stroke="#000" stroke-width="1.2"/>
<ellipse cx="517.1" cy="280.9" rx="2.8" ry="2.25" fill="#fff" stroke="#000" stroke-width="1.2"/>
<ellipse cx="517.1" cy="289.0" rx="2.8" ry="2.25" fill="#fff" stroke="#000" stroke-width="1.2"/>
<path d="M478.70 213.60V235.90M472.20 213.60h13M472.20 235.90h13M517.50 245.40V283.30M511.00 245.40h13M511.00 283.30h13" stroke="#000" stroke-width="0.7" fill="none"/>
<path d="M478.00 202.80V194.70H518.00V202.80" stroke="#000" stroke-width="1.6" fill="none" stroke-linejoin="miter"/>
<text transform="translate(488.64 195.90) scale(1.1867 1)" font-family='"Liberation Sans", sans-serif' font-weight="normal" font-size="20.00" fill="#000"  stroke="#000" stroke-width="0.4" vector-effect="non-scaling-stroke">**</text>
<text transform="translate(465.10 334.08) scale(1.1843 1)" font-family='"Liberation Sans", sans-serif' font-weight="normal" font-size="11.83" fill="#0a0a14"  stroke="#0a0a14" stroke-width="0.3" vector-effect="non-scaling-stroke">Con</text>
<text transform="translate(508.19 334.10) scale(1.1522 1)" font-family='"Liberation Sans", sans-serif' font-weight="normal" font-size="12.03" fill="#0a0a14"  stroke="#0a0a14" stroke-width="0.3" vector-effect="non-scaling-stroke">FA</text>
<text transform="translate(420.54 312.42) rotate(-90) scale(0.9170 1)" font-family='"Liberation Sans", sans-serif' font-weight="normal" font-size="11.23" fill="#0a0a14"  stroke="#0a0a14" stroke-width="0.3" vector-effect="non-scaling-stroke">PFC ALDH<tspan font-size="68%" dy="0.22em">2</tspan><tspan dy="-0.15em"> (U/µg*10^3)</tspan></text>
<text transform="translate(430.03 185.00) scale(1.0234 1)" font-family='"Liberation Serif", serif' font-weight="bold" font-size="18.63" fill="#000" >I</text>
</g>
<g id="panelJ">
<path d="M608.00 317.30V244.50H632.00V317.30" fill="#fff" stroke="#000" stroke-width="2.4" stroke-linejoin="miter"/>
<path d="M647.00 317.30V250.30H670.80V317.30" fill="#96241e" stroke="#000" stroke-width="2.4" stroke-linejoin="miter"/>
<path d="M595.10 197.30V318.25" stroke="#000" stroke-width="1.9" fill="none"/>
<path d="M594.15 317.30H685.00" stroke="#000" stroke-width="1.9" fill="none"/>
<path d="M588.30 238.00H595.10M588.30 317.30H595.10M591.00 198.10H595.10M591.60 277.20H595.10M620.20 317.30V322.50M658.80 317.30V322.50" stroke="#000" stroke-width="1.9" fill="none"/>
<text transform="translate(573.82 240.96) scale(1.1156 1)" font-family='"Liberation Sans", sans-serif' font-weight="bold" font-size="8.59" fill="#0a0a14" >0.1</text>
<text transform="translate(573.96 320.26) scale(1.1156 1)" font-family='"Liberation Sans", sans-serif' font-weight="bold" font-size="8.59" fill="#0a0a14" >0.0</text>
<ellipse cx="620.2" cy="210.0" rx="2.8" ry="2.25" fill="#fff" stroke="#000" stroke-width="1.2"/>
<ellipse cx="620.2" cy="222.8" rx="2.8" ry="2.25" fill="#fff" stroke="#000" stroke-width="1.2"/>
<ellipse cx="614.5" cy="249.7" rx="2.8" ry="2.25" fill="#fff" stroke="#000" stroke-width="1.2"/>
<ellipse cx="626.1" cy="248.2" rx="2.8" ry="2.25" fill="#fff" stroke="#000" stroke-width="1.2"/>
<ellipse cx="620.2" cy="261.5" rx="2.8" ry="2.25" fill="#fff" stroke="#000" stroke-width="1.2"/>
<ellipse cx="620.2" cy="267.0" rx="2.8" ry="2.25" fill="#fff" stroke="#000" stroke-width="1.2"/>
<ellipse cx="658.8" cy="219.8" rx="2.8" ry="2.25" fill="#fff" stroke="#000" stroke-width="1.2"/>
<ellipse cx="658.8" cy="226.3" rx="2.8" ry="2.25" fill="#fff" stroke="#000" stroke-width="1.2"/>
<ellipse cx="658.8" cy="231.4" rx="2.8" ry="2.25" fill="#fff" stroke="#000" stroke-width="1.2"/>
<ellipse cx="659.4" cy="255.8" rx="2.8" ry="2.25" fill="#fff" stroke="#000" stroke-width="1.2"/>
<ellipse cx="658.8" cy="264.7" rx="2.8" ry="2.25" fill="#fff" stroke="#000" stroke-width="1.2"/>
<ellipse cx="664.6" cy="270.6" rx="2.8" ry="2.25" fill="#fff" stroke="#000" stroke-width="1.2"/>
<ellipse cx="653.3" cy="273.7" rx="2.8" ry="2.25" fill="#fff" stroke="#000" stroke-width="1.2"/>
<path d="M620.20 220.60V265.50M613.70 220.60h13M613.70 265.50h13M658.80 225.90V272.10M652.30 225.90h13M652.30 272.10h13" stroke="#000" stroke-width="0.7" fill="none"/>
<path d="M620.20 205.40V198.90H658.20V205.40" stroke="#000" stroke-width="1.7" fill="none" stroke-linejoin="miter"/>
<text transform="translate(631.45 196.48) scale(1.1339 1)" font-family='"Liberation Sans", sans-serif' font-weight="normal" font-size="11.55" fill="#000" >NS</text>
<text transform="translate(607.72 334.08) scale(1.1023 1)" font-family='"Liberation Sans", sans-serif' font-weight="normal" font-size="12.39" fill="#0a0a14"  stroke="#0a0a14" stroke-width="0.3" vector-effect="non-scaling-stroke">Con</text>
<text transform="translate(650.18 334.10) scale(1.1062 1)" font-family='"Liberation Sans", sans-serif' font-weight="normal" font-size="12.61" fill="#0a0a14"  stroke="#0a0a14" stroke-width="0.3" vector-effect="non-scaling-stroke">FA</text>
<text transform="translate(565.34 312.45) rotate(-90) scale(0.9332 1)" font-family='"Liberation Sans", sans-serif' font-weight="normal" font-size="11.23" fill="#0a0a14"  stroke="#0a0a14" stroke-width="0.3" vector-effect="non-scaling-stroke">VTA ALDH<tspan font-size="68%" dy="0.22em">2</tspan><tspan dy="-0.15em"> (U/µg*10^3)</tspan></text>
<text transform="translate(555.24 185.60) scale(1.0945 1)" font-family='"Liberation Serif", serif' font-weight="bold" font-size="19.55" fill="#000" >J</text>
</g>
<g id="panelK">
<path d="M58.15 493.40V419.25H82.15V493.40" fill="#fff" stroke="#000" stroke-width="2.3" stroke-linejoin="miter"/>
<path d="M97.15 493.40V454.55H120.85V493.40" fill="#96241e" stroke="#000" stroke-width="2.3" stroke-linejoin="miter"/>
<path d="M44.60 372.80V494.35" stroke="#000" stroke-width="1.9" fill="none"/>
<path d="M43.65 493.40H135.90" stroke="#000" stroke-width="1.9" fill="none"/>
<path d="M37.80 373.80H44.60M37.80 397.90H44.60M37.80 421.80H44.60M37.80 445.80H44.60M37.80 469.70H44.60M37.80 493.40H44.60M70.10 493.40V499.30M108.90 493.40V499.30" stroke="#000" stroke-width="1.9" fill="none"/>
<text transform="translate(17.30 376.72) scale(1.1801 1)" font-family='"Liberation Sans", sans-serif' font-weight="bold" font-size="8.45" fill="#0a0a14" >1.00</text>
<text transform="translate(17.30 400.82) scale(1.1801 1)" font-family='"Liberation Sans", sans-serif' font-weight="bold" font-size="8.45" fill="#0a0a14" >0.80</text>
<text transform="translate(17.30 424.72) scale(1.1801 1)" font-family='"Liberation Sans", sans-serif' font-weight="bold" font-size="8.45" fill="#0a0a14" >0.60</text>
<text transform="translate(17.30 448.72) scale(1.1801 1)" font-family='"Liberation Sans", sans-serif' font-weight="bold" font-size="8.45" fill="#0a0a14" >0.40</text>
<text transform="translate(17.30 472.62) scale(1.1801 1)" font-family='"Liberation Sans", sans-serif' font-weight="bold" font-size="8.45" fill="#0a0a14" >0.20</text>
<text transform="translate(17.30 496.32) scale(1.1801 1)" font-family='"Liberation Sans", sans-serif' font-weight="bold" font-size="8.45" fill="#0a0a14" >0.00</text>
<ellipse cx="70.1" cy="403.5" rx="2.8" ry="2.25" fill="#fff" stroke="#000" stroke-width="1.2"/>
<ellipse cx="70.1" cy="417.8" rx="2.8" ry="2.25" fill="#fff" stroke="#000" stroke-width="1.2"/>
<ellipse cx="70.1" cy="422.9" rx="2.8" ry="2.25" fill="#fff" stroke="#000" stroke-width="1.2"/>
<ellipse cx="60.3" cy="425.3" rx="2.8" ry="2.25" fill="#fff" stroke="#000" stroke-width="1.2"/>
<ellipse cx="80.1" cy="423.9" rx="2.8" ry="2.25" fill="#fff" stroke="#000" stroke-width="1.2"/>
<ellipse cx="109.3" cy="433.9" rx="2.8" ry="2.25" fill="#fff" stroke="#000" stroke-width="1.2"/>
<ellipse cx="109.3" cy="439.2" rx="2.8" ry="2.25" fill="#fff" stroke="#000" stroke-width="1.2"/>
<ellipse cx="109.3" cy="443.7" rx="2.8" ry="2.25" fill="#fff" stroke="#000" stroke-width="1.2"/>
<ellipse cx="103.8" cy="460.1" rx="2.8" ry="2.25" fill="#fff" stroke="#000" stroke-width="1.2"/>
<ellipse cx="114.4" cy="459.1" rx="2.8" ry="2.25" fill="#fff" stroke="#000" stroke-width="1.2"/>
<ellipse cx="114.4" cy="469.3" rx="2.8" ry="2.25" fill="#fff" stroke="#000" stroke-width="1.2"/>
<ellipse cx="103.8" cy="472.4" rx="2.8" ry="2.25" fill="#fff" stroke="#000" stroke-width="1.2"/>
<path d="M70.10 409.60V427.40M63.60 409.60h13M63.60 427.40h13M109.30 438.20V469.30M102.80 438.20h13M102.80 469.30h13" stroke="#000" stroke-width="0.7" fill="none"/>
<path d="M69.70 381.60V373.60H109.30V381.60" stroke="#000" stroke-width="1.6" fill="none" stroke-linejoin="miter"/>
<text transform="translate(75.33 374.90) scale(1.2193 1)" font-family='"Liberation Sans", sans-serif' font-weight="normal" font-size="20.00" fill="#000"  stroke="#000" stroke-width="0.4" vector-effect="non-scaling-stroke">***</text>
<text transform="translate(57.51 511.28) scale(1.1597 1)" font-family='"Liberation Sans", sans-serif' font-weight="normal" font-size="11.83" fill="#0a0a14"  stroke="#0a0a14" stroke-width="0.3" vector-effect="non-scaling-stroke">Con</text>
<text transform="translate(100.06 511.30) scale(1.1886 1)" font-family='"Liberation Sans", sans-serif' font-weight="normal" font-size="12.03" fill="#0a0a14"  stroke="#0a0a14" stroke-width="0.3" vector-effect="non-scaling-stroke">FA</text>
<text transform="translate(9.73 483.71) rotate(-90) scale(1.0262 1)" font-family='"Liberation Sans", sans-serif' font-weight="normal" font-size="9.84" fill="#0a0a14"  stroke="#0a0a14" stroke-width="0.3" vector-effect="non-scaling-stroke">PFC FDH (U/µg*10^3)</text>
<text transform="translate(17.72 359.10) scale(0.9617 1)" font-family='"Liberation Serif", serif' font-weight="bold" font-size="19.69" fill="#000" >K</text>
</g>
<g id="panelL">
<path d="M195.15 493.40V439.45H219.05V493.40" fill="#fff" stroke="#000" stroke-width="2.3" stroke-linejoin="miter"/>
<path d="M233.95 493.40V443.45H257.85V493.40" fill="#96241e" stroke="#000" stroke-width="2.3" stroke-linejoin="miter"/>
<path d="M182.40 373.00V494.35" stroke="#000" stroke-width="1.9" fill="none"/>
<path d="M181.45 493.40H273.60" stroke="#000" stroke-width="1.9" fill="none"/>
<path d="M174.90 373.80H182.40M174.90 397.90H182.40M174.90 421.90H182.40M174.90 445.80H182.40M174.90 469.70H182.40M174.90 493.40H182.40M207.10 493.40V499.30M246.00 493.40V499.30" stroke="#000" stroke-width="1.9" fill="none"/>
<text transform="translate(154.61 376.72) scale(1.1675 1)" font-family='"Liberation Sans", sans-serif' font-weight="bold" font-size="8.45" fill="#0a0a14" >0.50</text>
<text transform="translate(154.61 400.82) scale(1.1675 1)" font-family='"Liberation Sans", sans-serif' font-weight="bold" font-size="8.45" fill="#0a0a14" >0.40</text>
<text transform="translate(154.61 424.82) scale(1.1675 1)" font-family='"Liberation Sans", sans-serif' font-weight="bold" font-size="8.45" fill="#0a0a14" >0.30</text>
<text transform="translate(154.61 448.72) scale(1.1675 1)" font-family='"Liberation Sans", sans-serif' font-weight="bold" font-size="8.45" fill="#0a0a14" >0.20</text>
<text transform="translate(154.61 472.62) scale(1.1675 1)" font-family='"Liberation Sans", sans-serif' font-weight="bold" font-size="8.45" fill="#0a0a14" >0.10</text>
<text transform="translate(154.61 496.32) scale(1.1675 1)" font-family='"Liberation Sans", sans-serif' font-weight="bold" font-size="8.45" fill="#0a0a14" >0.00</text>
<ellipse cx="207.3" cy="404.5" rx="2.8" ry="2.25" fill="#fff" stroke="#000" stroke-width="1.2"/>
<ellipse cx="207.1" cy="420.9" rx="2.8" ry="2.25" fill="#fff" stroke="#000" stroke-width="1.2"/>
<ellipse cx="207.1" cy="439.2" rx="2.8" ry="2.25" fill="#fff" stroke="#000" stroke-width="1.2"/>
<ellipse cx="201.4" cy="451.9" rx="2.8" ry="2.25" fill="#fff" stroke="#000" stroke-width="1.2"/>
<ellipse cx="212.7" cy="451.9" rx="2.8" ry="2.25" fill="#fff" stroke="#000" stroke-width="1.2"/>
<ellipse cx="207.1" cy="461.1" rx="2.8" ry="2.25" fill="#fff" stroke="#000" stroke-width="1.2"/>
<ellipse cx="240.7" cy="422.3" rx="2.8" ry="2.25" fill="#fff" stroke="#000" stroke-width="1.2"/>
<ellipse cx="251.5" cy="422.9" rx="2.8" ry="2.25" fill="#fff" stroke="#000" stroke-width="1.2"/>
<ellipse cx="246.0" cy="429.0" rx="2.8" ry="2.25" fill="#fff" stroke="#000" stroke-width="1.2"/>
<ellipse cx="240.7" cy="451.9" rx="2.8" ry="2.25" fill="#fff" stroke="#000" stroke-width="1.2"/>
<ellipse cx="251.5" cy="451.9" rx="2.8" ry="2.25" fill="#fff" stroke="#000" stroke-width="1.2"/>
<ellipse cx="251.5" cy="457.4" rx="2.8" ry="2.25" fill="#fff" stroke="#000" stroke-width="1.2"/>
<ellipse cx="240.7" cy="461.1" rx="2.8" ry="2.25" fill="#fff" stroke="#000" stroke-width="1.2"/>
<path d="M207.10 416.20V460.10M200.60 416.20h13M200.60 460.10h13M246.00 425.40V459.10M239.50 425.40h13M239.50 459.10h13" stroke="#000" stroke-width="0.7" fill="none"/>
<path d="M208.20 380.90V374.20H245.70V380.90" stroke="#000" stroke-width="2.7" fill="none" stroke-linejoin="miter"/>
<text transform="translate(217.95 370.88) scale(1.1339 1)" font-family='"Liberation Sans", sans-serif' font-weight="normal" font-size="11.55" fill="#000" >NS</text>
<text transform="translate(194.61 511.28) scale(1.1745 1)" font-family='"Liberation Sans", sans-serif' font-weight="normal" font-size="11.83" fill="#0a0a14"  stroke="#0a0a14" stroke-width="0.3" vector-effect="non-scaling-stroke">Con</text>
<text transform="translate(236.06 511.30) scale(1.1886 1)" font-family='"Liberation Sans", sans-serif' font-weight="normal" font-size="12.03" fill="#0a0a14"  stroke="#0a0a14" stroke-width="0.3" vector-effect="non-scaling-stroke">FA</text>
<text transform="translate(145.95 482.95) rotate(-90) scale(0.9480 1)" font-family='"Liberation Sans", sans-serif' font-weight="normal" font-size="10.70" fill="#0a0a14"  stroke="#0a0a14" stroke-width="0.3" vector-effect="non-scaling-stroke">VTA FDH (U/µg*10^3)</text>
<text transform="translate(172.51 359.10) scale(0.9739 1)" font-family='"Liberation Serif", serif' font-weight="bold" font-size="19.69" fill="#000" >L</text>
</g>
<g id="panelM">
<path d="M338.15 494.30V451.05H361.75V494.30" fill="#fff" stroke="#000" stroke-width="2.5" stroke-linejoin="miter"/>
<path d="M376.25 494.30V425.05H399.95V494.30" fill="#96241e" stroke="#000" stroke-width="2.5" stroke-linejoin="miter"/>
<path d="M324.20 372.80V495.25" stroke="#000" stroke-width="1.9" fill="none"/>
<path d="M323.25 494.30H414.80" stroke="#000" stroke-width="1.9" fill="none"/>
<path d="M317.00 373.80H324.20M317.00 404.10H324.20M317.00 434.50H324.20M317.00 464.40H324.20M317.00 494.30H324.20M349.70 494.30V500.10M387.90 494.30V500.10" stroke="#000" stroke-width="1.9" fill="none"/>
<text transform="translate(297.82 376.72) scale(1.1294 1)" font-family='"Liberation Sans", sans-serif' font-weight="bold" font-size="8.45" fill="#0a0a14" >0.20</text>
<text transform="translate(297.68 407.02) scale(1.1294 1)" font-family='"Liberation Sans", sans-serif' font-weight="bold" font-size="8.45" fill="#0a0a14" >0.15</text>
<text transform="translate(297.82 437.42) scale(1.1294 1)" font-family='"Liberation Sans", sans-serif' font-weight="bold" font-size="8.45" fill="#0a0a14" >0.10</text>
<text transform="translate(297.68 467.32) scale(1.1294 1)" font-family='"Liberation Sans", sans-serif' font-weight="bold" font-size="8.45" fill="#0a0a14" >0.05</text>
<text transform="translate(297.82 497.22) scale(1.1294 1)" font-family='"Liberation Sans", sans-serif' font-weight="bold" font-size="8.45" fill="#0a0a14" >0.00</text>
<ellipse cx="344.6" cy="435.3" rx="2.65" ry="2.4" fill="#fff" stroke="#000" stroke-width="1.25"/>
<ellipse cx="354.8" cy="438.8" rx="2.65" ry="2.4" fill="#fff" stroke="#000" stroke-width="1.25"/>
<ellipse cx="344.6" cy="443.3" rx="2.65" ry="2.4" fill="#fff" stroke="#000" stroke-width="1.25"/>
<ellipse cx="354.8" cy="447.4" rx="2.65" ry="2.4" fill="#fff" stroke="#000" stroke-width="1.25"/>
<ellipse cx="344.6" cy="451.9" rx="2.65" ry="2.4" fill="#fff" stroke="#000" stroke-width="1.25"/>
<ellipse cx="354.8" cy="465.2" rx="2.65" ry="2.4" fill="#fff" stroke="#000" stroke-width="1.25"/>
<ellipse cx="344.6" cy="468.3" rx="2.65" ry="2.4" fill="#fff" stroke="#000" stroke-width="1.25"/>
<ellipse cx="388.1" cy="395.9" rx="2.65" ry="2.4" fill="#fff" stroke="#000" stroke-width="1.25"/>
<ellipse cx="382.4" cy="421.8" rx="2.65" ry="2.4" fill="#fff" stroke="#000" stroke-width="1.25"/>
<ellipse cx="393.6" cy="426.2" rx="2.65" ry="2.4" fill="#fff" stroke="#000" stroke-width="1.25"/>
<ellipse cx="382.4" cy="429.4" rx="2.65" ry="2.4" fill="#fff" stroke="#000" stroke-width="1.25"/>
<ellipse cx="382.4" cy="435.2" rx="2.65" ry="2.4" fill="#fff" stroke="#000" stroke-width="1.25"/>
<ellipse cx="393.6" cy="435.2" rx="2.65" ry="2.4" fill="#fff" stroke="#000" stroke-width="1.25"/>
<path d="M349.70 437.60V462.10M343.20 437.60h13M343.20 462.10h13M387.90 409.60V437.60M381.40 409.60h13M381.40 437.60h13" stroke="#000" stroke-width="0.7" fill="none"/>
<path d="M348.60 380.90V374.20H387.30V380.90" stroke="#000" stroke-width="2.7" fill="none" stroke-linejoin="miter"/>
<text transform="translate(361.21 374.02) scale(1.0350 1)" font-family='"Liberation Sans", sans-serif' font-weight="bold" font-size="17.57" fill="#000" >**</text>
<text transform="translate(337.30 511.29) scale(1.1112 1)" font-family='"Liberation Sans", sans-serif' font-weight="bold" font-size="11.27" fill="#0a0a14" >Con</text>
<text transform="translate(379.59 511.30) scale(1.0835 1)" font-family='"Liberation Sans", sans-serif' font-weight="bold" font-size="11.45" fill="#0a0a14" >FA</text>
<text transform="translate(288.69 491.80) rotate(-90) scale(1.0036 1)" font-family='"Liberation Sans", sans-serif' font-weight="normal" font-size="12.41" fill="#0a0a14"  stroke="#0a0a14" stroke-width="0.4" vector-effect="non-scaling-stroke">PFC FA (mol/g*10^3)</text>
<text transform="translate(297.90 359.10) scale(1.0042 1)" font-family='"Liberation Serif", serif' font-weight="bold" font-size="19.69" fill="#000" >M</text>
</g>
<g id="panelN">
<path d="M473.35 495.90V415.35H496.55V495.90" fill="#fff" stroke="#000" stroke-width="2.3" stroke-linejoin="miter"/>
<path d="M511.15 495.90V408.35H533.95V495.90" fill="#96241e" stroke="#000" stroke-width="2.3" stroke-linejoin="miter"/>
<path d="M460.20 374.90V496.85" stroke="#000" stroke-width="1.9" fill="none"/>
<path d="M459.25 495.90H548.00" stroke="#000" stroke-width="1.9" fill="none"/>
<path d="M453.60 375.90H460.20M453.60 405.90H460.20M453.60 435.60H460.20M453.60 465.70H460.20M453.60 495.90H460.20M485.10 495.90V501.70M522.50 495.90V501.70" stroke="#000" stroke-width="1.9" fill="none"/>
<text transform="translate(434.01 378.82) scale(1.1486 1)" font-family='"Liberation Sans", sans-serif' font-weight="bold" font-size="8.45" fill="#0a0a14" >0.08</text>
<text transform="translate(434.06 408.82) scale(1.1486 1)" font-family='"Liberation Sans", sans-serif' font-weight="bold" font-size="8.45" fill="#0a0a14" >0.06</text>
<text transform="translate(433.77 438.52) scale(1.1486 1)" font-family='"Liberation Sans", sans-serif' font-weight="bold" font-size="8.45" fill="#0a0a14" >0.04</text>
<text transform="translate(434.11 468.62) scale(1.1486 1)" font-family='"Liberation Sans", sans-serif' font-weight="bold" font-size="8.45" fill="#0a0a14" >0.02</text>
<text transform="translate(434.11 498.82) scale(1.1486 1)" font-family='"Liberation Sans", sans-serif' font-weight="bold" font-size="8.45" fill="#0a0a14" >0.00</text>
<ellipse cx="475.5" cy="412.7" rx="2.6" ry="2.45" fill="#fff" stroke="#000" stroke-width="1.3"/>
<ellipse cx="485.1" cy="412.7" rx="2.6" ry="2.45" fill="#fff" stroke="#000" stroke-width="1.3"/>
<ellipse cx="480.2" cy="414.7" rx="2.6" ry="2.45" fill="#fff" stroke="#000" stroke-width="1.3"/>
<ellipse cx="494.9" cy="414.7" rx="2.6" ry="2.45" fill="#fff" stroke="#000" stroke-width="1.3"/>
<ellipse cx="489.8" cy="416.3" rx="2.6" ry="2.45" fill="#fff" stroke="#000" stroke-width="1.3"/>
<ellipse cx="480.2" cy="420.8" rx="2.6" ry="2.45" fill="#fff" stroke="#000" stroke-width="1.3"/>
<ellipse cx="522.5" cy="396.3" rx="2.6" ry="2.45" fill="#fff" stroke="#000" stroke-width="1.3"/>
<ellipse cx="512.3" cy="406.5" rx="2.6" ry="2.45" fill="#fff" stroke="#000" stroke-width="1.3"/>
<ellipse cx="522.5" cy="409.6" rx="2.6" ry="2.45" fill="#fff" stroke="#000" stroke-width="1.3"/>
<ellipse cx="531.7" cy="410.6" rx="2.6" ry="2.45" fill="#fff" stroke="#000" stroke-width="1.3"/>
<ellipse cx="512.3" cy="412.3" rx="2.6" ry="2.45" fill="#fff" stroke="#000" stroke-width="1.3"/>
<ellipse cx="527.0" cy="412.3" rx="2.6" ry="2.45" fill="#fff" stroke="#000" stroke-width="1.3"/>
<path d="M485.10 412.30V417.50M479.60 412.30h11M479.60 417.50h11M522.50 402.00V412.50M516.25 402.00h12.5M516.25 412.50h12.5" stroke="#000" stroke-width="0.7" fill="none"/>
<path d="M486.20 385.00V375.70H522.70V385.00" stroke="#000" stroke-width="2.7" fill="none" stroke-linejoin="miter"/>
<text transform="translate(500.92 376.16) scale(0.9894 1)" font-family='"Liberation Sans", sans-serif' font-weight="bold" font-size="16.76" fill="#000" >*</text>
<text transform="translate(473.01 512.89) scale(1.0911 1)" font-family='"Liberation Sans", sans-serif' font-weight="bold" font-size="11.13" fill="#0a0a14" >Con</text>
<text transform="translate(513.88 512.90) scale(1.1198 1)" font-family='"Liberation Sans", sans-serif' font-weight="bold" font-size="11.30" fill="#0a0a14" >FA</text>
<text transform="translate(426.45 491.86) rotate(-90) scale(0.9768 1)" font-family='"Liberation Sans", sans-serif' font-weight="normal" font-size="12.62" fill="#0a0a14"  stroke="#0a0a14" stroke-width="0.4" vector-effect="non-scaling-stroke">VTA FA (mol/g*10^3)</text>
<text transform="translate(435.32 359.10) scale(0.9714 1)" font-family='"Liberation Serif", serif' font-weight="bold" font-size="19.69" fill="#000" >N</text>
</g>
<g id="panelO">
<path d="M604.00 493.90V418.60H627.60V493.90" fill="#fff" stroke="#000" stroke-width="2.4" stroke-linejoin="miter"/>
<path d="M642.90 493.90V406.30H666.40V493.90" fill="#96241e" stroke="#000" stroke-width="2.4" stroke-linejoin="miter"/>
<path d="M590.00 375.90V494.85" stroke="#000" stroke-width="1.9" fill="none"/>
<path d="M589.05 493.90H681.50" stroke="#000" stroke-width="1.9" fill="none"/>
<path d="M583.80 376.90H590.00M583.80 416.00H590.00M583.80 455.10H590.00M583.80 493.90H590.00M615.90 493.90V499.70M654.30 493.90V499.70" stroke="#000" stroke-width="1.9" fill="none"/>
<text transform="translate(570.66 379.96) scale(1.0047 1)" font-family='"Liberation Sans", sans-serif' font-weight="bold" font-size="9.00" fill="#0a0a14" >1.5</text>
<text transform="translate(570.79 419.06) scale(1.0047 1)" font-family='"Liberation Sans", sans-serif' font-weight="bold" font-size="9.00" fill="#0a0a14" >1.0</text>
<text transform="translate(570.66 458.16) scale(1.0047 1)" font-family='"Liberation Sans", sans-serif' font-weight="bold" font-size="9.00" fill="#0a0a14" >0.5</text>
<text transform="translate(570.79 496.96) scale(1.0047 1)" font-family='"Liberation Sans", sans-serif' font-weight="bold" font-size="9.00" fill="#0a0a14" >0.0</text>
<ellipse cx="610.4" cy="412.3" rx="2.6" ry="2.45" fill="#fff" stroke="#000" stroke-width="1.3"/>
<ellipse cx="621.0" cy="416.3" rx="2.6" ry="2.45" fill="#fff" stroke="#000" stroke-width="1.3"/>
<ellipse cx="615.9" cy="423.9" rx="2.6" ry="2.45" fill="#fff" stroke="#000" stroke-width="1.3"/>
<ellipse cx="654.7" cy="400.4" rx="2.6" ry="2.45" fill="#fff" stroke="#000" stroke-width="1.3"/>
<ellipse cx="649.2" cy="406.9" rx="2.6" ry="2.45" fill="#fff" stroke="#000" stroke-width="1.3"/>
<ellipse cx="660.1" cy="406.9" rx="2.6" ry="2.45" fill="#fff" stroke="#000" stroke-width="1.3"/>
<path d="M615.90 411.60V423.90M609.40 411.60h13M609.40 423.90h13M654.70 400.40V409.50M648.20 400.40h13M648.20 409.50h13" stroke="#000" stroke-width="0.7" fill="none"/>
<path d="M611.70 383.80V377.20H653.80V383.80" stroke="#000" stroke-width="2.6" fill="none" stroke-linejoin="miter"/>
<text transform="translate(627.41 378.65) scale(1.0819 1)" font-family='"Liberation Sans", sans-serif' font-weight="bold" font-size="17.03" fill="#000" >*</text>
<text transform="translate(604.84 510.28) scale(0.9621 1)" font-family='"Liberation Sans", sans-serif' font-weight="bold" font-size="11.83" fill="#0a0a14" >Con</text>
<text transform="translate(645.84 510.30) scale(0.9751 1)" font-family='"Liberation Sans", sans-serif' font-weight="bold" font-size="12.03" fill="#0a0a14" >FA</text>
<text transform="translate(562.74 494.21) rotate(-90) scale(0.9529 1)" font-family='"Liberation Sans", sans-serif' font-weight="normal" font-size="11.23" fill="#0a0a14"  stroke="#0a0a14" stroke-width="0.3" vector-effect="non-scaling-stroke">TIQ Fluo-intensity (Fold)</text>
<text transform="translate(562.75 359.10) scale(1.0594 1)" font-family='"Liberation Serif", serif' font-weight="bold" font-size="19.85" fill="#000" >O</text>
</g>
</svg>
</body></html>
